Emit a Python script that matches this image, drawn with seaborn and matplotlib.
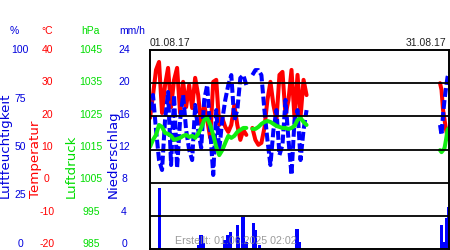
import matplotlib
matplotlib.use("Agg")
import matplotlib.pyplot as plt
import seaborn as sns
import numpy as np
import pandas as pd

sns.set_theme(style="white")
plt.rcParams["font.family"] = ["Liberation Sans", "DejaVu Sans"]

# ---------------- data ----------------
nan = np.nan
times_a = pd.date_range("2017-08-01 00:00", periods=53, freq="435min")
times_b = pd.date_range("2017-08-30 02:24", periods=7, freq="216min")

temp_a = [19.5, 26.4, 34.0, 36.4, 21.0, 29.4, 34.6, 22.8, 31.0, 34.6,
          21.0, 30.4, 22.8, 29.4, 22.5, 31.6, 26.4, 17.4, 23.4, 18.9,
          13.5, 30.4, 31.0, 17.4, 19.5, 16.8, 15.3, 17.4, 23.4, 17.4,
          12.9, 15.9, 14.4, nan, 16.5, 12.9, 11.4, 12.0, 16.5, 24.9,
          30.4, 23.4, 18.9, 32.5, 33.4, 20.4, 24.9, 34.0, 19.5, 32.5,
          19.8, 31.0, 26.4]
hum_a = [69.8, 77.4, 59.8, 44.7, 39.7, 64.8, 78.9, 42.2, 77.4, 40.7,
         64.8, 77.4, 59.8, 49.8, 44.7, 72.4, 59.8, 50.8, 74.9, 82.4,
         59.8, 37.2, 69.8, 49.8, 64.8, 74.9, 82.4, 87.4, 64.8, 69.8,
         85.9, 87.4, 82.4, nan, 87.4, 89.9, 89.9, 87.4, 69.8, 54.8,
         42.2, 59.8, 69.8, 47.2, 52.3, 74.9, 54.8, 37.2, 64.8, 69.8,
         44.7, 59.8, 69.8]
pres_a = [1015.8, 1017.9, 1019.4, 1022.4, 1021.8, 1020.0, 1019.7, 1019.1, 1017.9, 1018.2,
          1018.5, 1019.1, 1019.4, 1018.8, 1019.1, 1018.5, 1019.7, 1021.5, 1023.9, 1024.5,
          1022.4, 1019.4, 1015.8, 1013.3, 1014.8, 1017.0, 1019.1, 1018.5, 1019.1, 1020.3,
          1020.9, 1021.5, 1021.5, nan, 1021.2, 1021.2, 1021.8, 1022.7, 1023.3, 1023.6,
          1023.3, 1022.7, 1022.1, 1021.8, 1021.5, 1021.5, 1021.2, 1021.5, 1022.1, 1023.9,
          1024.5, 1023.3, 1022.4]

temp_b = [30.0, 28.0, 22.0, 19.0, 16.0, 14.0, 13.0]
hum_b = [62.3, 57.3, 67.3, 74.9, 80.9, 86.4, 88.4]
pres_b = [1014.8, 1014.2, 1014.8, 1015.4, 1017.9, 1020.9, 1021.5]

rain_hours = [22, 116, 123, 128, 180, 188, 193, 210, 214, 224,
              231, 250, 255, 264, 354, 359, 702, 709, 714, 719]
rain_mm = [7.3, 0.5, 1.7, 0.7, 1.1, 1.7, 2.0, 2.9, 1.3, 3.9,
           0.8, 3.1, 2.3, 0.5, 2.4, 0.8, 2.9, 0.8, 3.7, 5.1]

hum_ticks = [100, 75, 50, 25, 0]
temp_ticks = [40, 30, 20, 10, 0, -10, -20]
pres_ticks = [1045, 1035, 1025, 1015, 1005, 995, 985]
rain_ticks = [24, 20, 16, 12, 8, 4, 0]

start = pd.Timestamp("2017-08-01")
end = pd.Timestamp("2017-08-31")

df = pd.DataFrame({
    "time": list(times_a) + list(times_b),
    "temp": temp_a + temp_b,
    "hum": hum_a + hum_b,
    "pres": pres_a + pres_b,
    "seg": [0] * len(times_a) + [1] * len(times_b),
})
rain = pd.DataFrame({"time": start + pd.to_timedelta(rain_hours, unit="h"), "mm": rain_mm})

RED = "#ff0000"
BLUE = "#0000ff"
GREEN = "#11ee11"
BLUE_T = "#0000dd"
GREEN_T = "#00dd00"

W, H = 450, 250
fig = plt.figure(figsize=(4.5, 2.5), dpi=100)
fig.patch.set_facecolor("white")


def fx(x):
    return x / W


def fy(y):
    return 1 - y / H


ax_r = fig.add_axes([fx(150), fy(249), 299 / W, 199 / H])
ax_t = ax_r.twinx()
ax_h = ax_r.twinx()
ax_p = ax_r.twinx()
ax_g = ax_r.twinx()

ax_r.set_xlim(start, end)

# precipitation bars
ax_r.bar(rain["time"], rain["mm"], width=0.32, color=BLUE, align="center", linewidth=0)
ax_r.set_ylim(0, 24)


def draw(axis, col, color, **kw):
    d = df[["time", col, "seg"]].copy()
    d["part"] = d["seg"].astype(str) + "_" + d[col].isna().cumsum().astype(str)
    d = d.dropna()
    sns.lineplot(data=d, x="time", y=col, units="part", estimator=None,
                 color=color, ax=axis, legend=False, sort=False, **kw)


draw(ax_t, "temp", RED, linewidth=2.9)
ax_t.set_ylim(-20, 40)
draw(ax_h, "hum", BLUE, linewidth=2.9, linestyle=(0, (2.2, 0.8)))
ax_h.set_ylim(0, 100)
draw(ax_p, "pres", GREEN, linewidth=2.9)
ax_p.set_ylim(985, 1045)

for a in (ax_r, ax_t, ax_h, ax_p):
    a.set_xlim(start, end)
    a.axis("off")

# overlay: frame + grid
ax_g.set_ylim(-20, 40)
ax_g.set_xlim(start, end)
ax_g.set_yticks(temp_ticks[1:-1])
ax_g.set_yticklabels([])
ax_g.set_xticks([])
ax_g.tick_params(length=0)
ax_g.yaxis.grid(True, color="black", linewidth=1.3)
for s in ax_g.spines.values():
    s.set_visible(True)
    s.set_color("black")
    s.set_linewidth(1.4)
ax_g.set_ylabel("")

# ---------------- left scale text ----------------
fs = 7.5
top_y, bot_y = 50, 244


def col_labels(vals, x, color):
    vmax, vmin = vals[0], vals[-1]
    for v in vals:
        y = top_y + (vmax - v) / (vmax - vmin) * (bot_y - top_y)
        fig.text(fx(x), fy(y), str(v), color=color, fontsize=fs, ha="center", va="center")


col_labels(hum_ticks, 20, BLUE_T)
col_labels(temp_ticks, 47, RED)
col_labels(pres_ticks, 91, GREEN_T)
col_labels(rain_ticks, 124, BLUE_T)

fig.text(fx(14), fy(30.5), "%", color=BLUE_T, fontsize=fs, ha="center", va="center")
fig.text(fx(47), fy(30.5), "°C", color=RED, fontsize=fs, ha="center", va="center")
fig.text(fx(90), fy(30.5), "hPa", color=GREEN_T, fontsize=fs, ha="center", va="center")
fig.text(fx(132.5), fy(30.5), "mm/h", color=BLUE_T, fontsize=fs, ha="center", va="center")

rot_kw = dict(rotation=90, fontsize=9.6, ha="center", va="bottom", family=["DejaVu Sans"])
fig.text(fx(5.5), fy(198), "Luftfeuchtigkeit", color=BLUE_T, **rot_kw)
fig.text(fx(35), fy(198), "Temperatur", color=RED, **rot_kw)
fig.text(fx(71), fy(198), "Luftdruck", color=GREEN_T, **rot_kw)
fig.text(fx(113), fy(198), "Niederschlag", color=BLUE_T, **rot_kw)

fig.text(fx(150), fy(42.5), "01.08.17", color="#222222", fontsize=fs, ha="left", va="center")
fig.text(fx(446), fy(42.5), "31.08.17", color="#222222", fontsize=fs, ha="right", va="center")

fig.text(fx(236), fy(241), "Erstellt: 01.06.2025 02:02", color="#888888", alpha=0.85,
         fontsize=7.7, ha="center", va="center")

fig.savefig("out.png", dpi=100)
